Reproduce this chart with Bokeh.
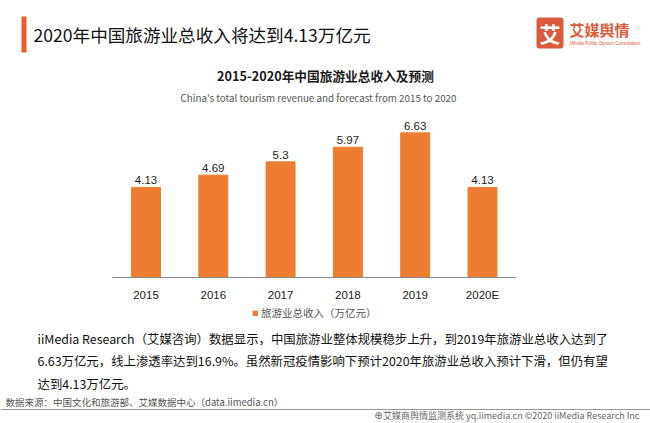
from bokeh.plotting import figure
from bokeh.models import BoxAnnotation, Legend, ColumnDataSource, LabelSet, Range1d, FixedTicker
from bokeh.layouts import column
from bokeh.core.properties import value
from bokeh.embed import file_html
from bokeh.resources import INLINE

# ---- data ----
years = ["2015", "2016", "2017", "2018", "2019", "2020E"]
revenue = [4.13, 4.69, 5.30, 5.97, 6.63, 4.13]
revenue_text = ["4.13", "4.69", "5.3", "5.97", "6.63", "4.13"]
series_name = "旅游业总收入（万亿元）"
main_title = "2020年中国旅游业总收入将达到4.13万亿元"
chart_title = "2015-2020年中国旅游业总收入及预测"
chart_subtitle = "China's total tourism revenue and forecast from 2015 to 2020"
para_lines = [
    "iiMedia Research（艾媒咨询）数据显示，中国旅游业整体规模稳步上升，到2019年旅游业总收入达到了",
    "6.63万亿元，线上渗透率达到16.9%。虽然新冠疫情影响下预计2020年旅游业总收入预计下滑，但仍有望",
    "达到4.13万亿元。",
]
source_text = "数据来源：中国文化和旅游部、艾媒数据中心（data.iimedia.cn）"
footer_text = "艾媒商舆情监测系统 yq.iimedia.cn  ©2020  iiMedia Research  Inc"
logo_char = "艾"
logo_name = "艾媒舆情"
logo_sub = "iiMedia Public Opinion Consultation"

# ---- layout constants (canvas px) ----
W, H = 650, 423
Y1, Y2 = 110, 303          # band boundaries
X0, STEP, FB = 145.5, 67.3, 282   # first bar centre, bar spacing, baseline
BAR = "#ED7D31"
CJK = "Noto Sans CJK SC"
LAT = "Liberation Sans"


def band(y0, y1):
    f = figure(width=W, height=y1 - y0, x_range=Range1d(0, W), y_range=Range1d(y1, y0),
               output_backend="svg", toolbar_location=None,
               x_axis_location=None, y_axis_location=None,
               min_border=0, min_border_left=0, min_border_right=0,
               min_border_top=0, min_border_bottom=0)
    f.outline_line_color = None
    f.grid.visible = False
    return f


def txt(f, x, y, s, size, color="#222222", font=CJK, align="left", style="normal"):
    f.text(x=[x], y=[y], text=[s], text_font=value(font), text_font_size=size,
           text_color=color, text_align=align, text_baseline="middle", text_font_style=style)


def box(f, x0, y0, x1, y1, color, radius=0):
    f.add_layout(BoxAnnotation(left=x0, right=x1, top=y0, bottom=y1, fill_color=color,
                               fill_alpha=1, line_color=None, border_radius=radius,
                               level="underlay"))


# ---- header band ----
top = band(0, Y1)
box(top, 21, 16, 26, 52, "#F05A28")
txt(top, 33, 34, main_title, "17.6px", "#111111")
box(top, 536, 17, 563, 48, "#D95B3B", 3)
txt(top, 549.5, 32.5, logo_char, "21px", "white", align="center", style="bold")
txt(top, 569, 29, logo_name, "15px", "#D95B3B", style="bold")
txt(top, 569, 43, logo_sub, "4.5px", "#D95B3B", font=LAT)
txt(top, 325, 75, chart_title, "12.7px", "#1a1a1a", align="center", style="bold")
txt(top, 318, 97, chart_subtitle, "9.8px", "#555555", align="center")

# ---- bar chart band ----
idx = list(range(len(years)))
src = ColumnDataSource(dict(x=idx, top=revenue, t=revenue_text))
p = figure(width=W, height=Y2 - Y1,
           x_range=Range1d(-X0 / STEP, (W - X0) / STEP),
           y_range=Range1d(0, (FB - Y1) / 22.47),
           output_backend="svg", toolbar_location=None, y_axis_location=None,
           min_border_left=0, min_border_right=0, min_border_top=0,
           min_border_bottom=Y2 - FB)
p.outline_line_color = None
p.grid.visible = False
p.vbar(x="x", top="top", width=0.43, source=src, color=BAR)
p.add_layout(LabelSet(x="x", y="top", text="t", source=src, y_offset=3,
                      text_align="center", text_baseline="bottom",
                      text_font=value(LAT), text_font_size="11.5px", text_color="#222222"))
ax = p.xaxis[0]
ax.ticker = FixedTicker(ticks=idx)
ax.major_label_overrides = {i: y for i, y in zip(idx, years)}
ax.bounds = (-0.5, len(years) - 0.5)
ax.axis_line_color = "#888888"
ax.major_tick_line_color = None
ax.minor_tick_line_color = None
ax.major_label_standoff = 5
ax.major_label_text_font = LAT
ax.major_label_text_font_size = "11.5px"
ax.major_label_text_color = "#222222"

# ---- footer band ----
bot = band(Y2, H)
dummy = bot.rect(x=[-100], y=[-100], width=1, height=1, color=BAR)
leg = Legend(items=[(series_name, [dummy])], location=(252, H - 320), orientation="horizontal",
             border_line_color=None, background_fill_alpha=0, padding=0, margin=0,
             glyph_width=6, glyph_height=6, label_height=12, label_standoff=3,
             label_text_font=CJK, label_text_font_size="10.5px", label_text_color="#555555")
bot.add_layout(leg)
for i, line in enumerate(para_lines):
    txt(bot, 37, 338 + i * 22.5, line, "12.4px", "#111111")
txt(bot, 5, 401, source_text, "9.5px", "#555555")
box(bot, 0, 408.5, 650, 409.5, "#999999")
txt(bot, 378, 415, "⊕", "10px", "#666666", font="DejaVu Sans", align="center")
txt(bot, 645, 415, footer_text, "9px", "#666666", align="right")

layout = column(top, p, bot, spacing=0)
open("out.html", "w").write(file_html(layout, INLINE))
